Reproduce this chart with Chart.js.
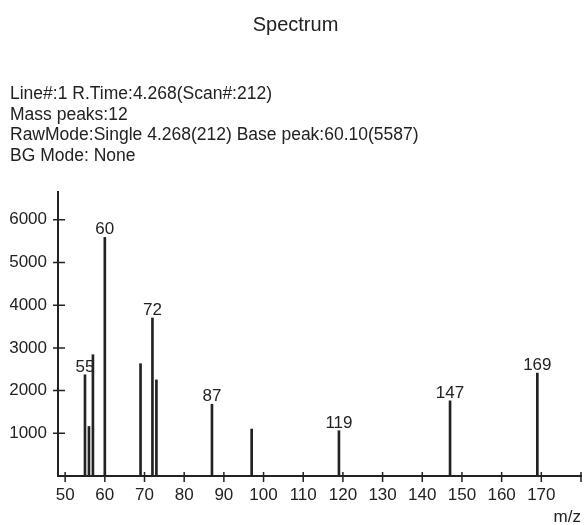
<!DOCTYPE html>
<html>
<head>
<meta charset="utf-8">
<script src="https://cdn.jsdelivr.net/npm/chart.js@4.4.1/dist/chart.umd.min.js"></script>
<style>
  html, body { margin: 0; padding: 0; background: #fff; }
  #wrap { width: 586px; height: 525px; }
</style>
</head>
<body>
<div id="wrap"><canvas id="spectrum-chart"></canvas></div>
<script>
// peaks (m/z, intensity)
const mzValues = [55, 56, 57, 60, 69, 72, 73, 87, 97, 119, 147, 169];
const intensities = [2370, 1160, 2840, 5587, 2630, 3700, 2250, 1680, 1100, 1060, 1760, 2410];
const labeledPeaks = [55, 60, 72, 87, 119, 147, 169];
const xTickValues = [50, 60, 70, 80, 90, 100, 110, 120, 130, 140, 150, 160, 170, 180];
const yTickValues = [1000, 2000, 3000, 4000, 5000, 6000];
const headerLines = [
    'Line#:1 R.Time:4.268(Scan#:212)',
    'Mass peaks:12',
    'RawMode:Single 4.268(212) Base peak:60.10(5587)',
    'BG Mode: None'
];

const sans = '"Liberation Sans", Arial, sans-serif';
const ink = '#222';

// short tick marks that cross the axis lines
const crossTicks = {
    id: 'crossTicks',
    afterDraw(chart) {
        const ctx = chart.ctx;
        const xs = chart.scales.x, ys = chart.scales.y;
        ctx.save();
        ctx.strokeStyle = ink;
        ctx.lineWidth = 1.5;
        ctx.beginPath();
        xs.ticks.forEach((t, i) => {
            const px = xs.getPixelForTick(i);
            ctx.moveTo(px, xs.top - 4);
            ctx.lineTo(px, xs.top + 6);
        });
        ys.ticks.forEach((t, i) => {
            const py = ys.getPixelForTick(i);
            ctx.moveTo(ys.right - 5, py);
            ctx.lineTo(ys.right + 7, py);
        });
        ctx.stroke();
        ctx.restore();
    }
};

// m/z numbers above the main peaks
const peakLabels = {
    id: 'peakLabels',
    afterDatasetsDraw(chart) {
        const ctx = chart.ctx;
        const meta = chart.getDatasetMeta(0);
        ctx.save();
        ctx.font = '17px ' + sans;
        ctx.fillStyle = ink;
        ctx.textAlign = 'center';
        ctx.textBaseline = 'alphabetic';
        meta.data.forEach((bar, i) => {
            if (!labeledPeaks.includes(mzValues[i])) return;
            ctx.fillText(String(mzValues[i]), bar.x, bar.y - 3);
        });
        ctx.restore();
    }
};

const ctx = document.getElementById('spectrum-chart').getContext('2d');
new Chart(ctx, {
    type: 'bar',
    data: {
        datasets: [{
            label: 'Intensity',
            data: mzValues.map((m, i) => ({ x: m, y: intensities[i] })),
            backgroundColor: ink,
            borderWidth: 0,
            barThickness: 2
        }]
    },
    options: {
        responsive: true,
        maintainAspectRatio: false,
        animation: false,
        layout: { padding: { left: 10, right: 5, top: 0, bottom: 0 } },
        plugins: {
            legend: { display: false },
            tooltip: { enabled: false },
            title: {
                display: true,
                text: 'Spectrum',
                color: ink,
                font: { family: sans, size: 20, weight: 'normal', lineHeight: 1.2 },
                padding: { top: 13, bottom: 0 }
            },
            subtitle: {
                display: true,
                text: headerLines,
                align: 'start',
                color: ink,
                font: { family: sans, size: 17.5, lineHeight: '20.5px' },
                padding: { top: 47, bottom: 26 }
            }
        },
        scales: {
            x: {
                type: 'linear',
                offset: false,
                min: 48.2,
                max: 180,
                afterBuildTicks: s => { s.ticks = xTickValues.map(v => ({ value: v })); },
                afterFit: s => { s.height = 49; s.paddingLeft = 0; s.paddingRight = 0; },
                grid: { display: false, drawTicks: false },
                border: { display: true, color: ink, width: 2 },
                ticks: {
                    padding: 9,
                    color: ink,
                    maxRotation: 0,
                    autoSkip: false,
                    font: { family: sans, size: 17 },
                    callback: v => (v < 180 ? String(v) : '')
                },
                title: {
                    display: true,
                    text: 'm/z',
                    align: 'end',
                    color: ink,
                    font: { family: sans, size: 17 },
                    padding: { top: 0, bottom: -3 }
                }
            },
            y: {
                type: 'linear',
                min: 0,
                max: 6650,
                afterBuildTicks: s => { s.ticks = yTickValues.map(v => ({ value: v })); },
                afterFit: s => { s.width = 48; },
                grid: { display: false, drawTicks: false },
                border: { display: true, color: ink, width: 2 },
                ticks: {
                    autoSkip: false,
                    padding: 11,
                    color: ink,
                    font: { family: sans, size: 17 },
                    callback: v => String(v)
                }
            }
        }
    },
    plugins: [crossTicks, peakLabels]
});
</script>
</body>
</html>
